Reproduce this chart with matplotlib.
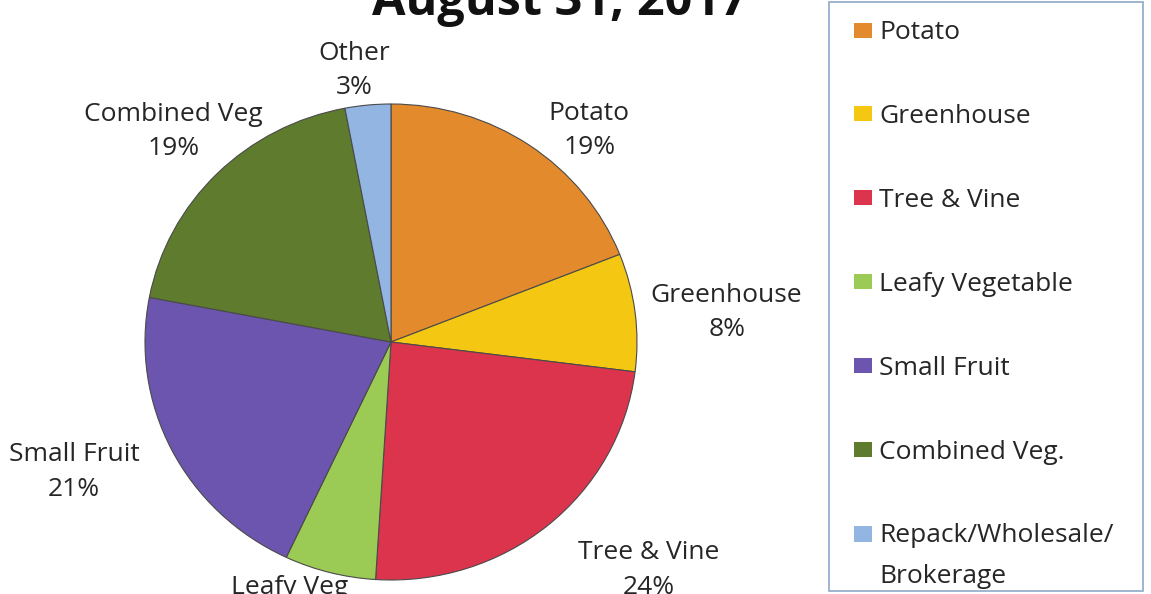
import numpy as np
import matplotlib
matplotlib.use('Agg')
import matplotlib.pyplot as plt
from matplotlib.patches import Patch, Rectangle
from matplotlib.legend_handler import HandlerPatch

plt.rcParams['font.family'] = ['Open Sans', 'DejaVu Sans']

# data
slice_names = ['Potato', 'Greenhouse', 'Tree & Vine', 'Leafy Veg', 'Small Fruit', 'Combined Veg', 'Other']
shares = [19, 8, 24, 6, 21, 19, 3]
legend_names = ['Potato', 'Greenhouse', 'Tree & Vine', 'Leafy Vegetable', 'Small Fruit',
                'Combined Veg.', 'Repack/Wholesale/\nBrokerage']
colors = ['#E38B2C', '#F4C812', '#DC344C', '#9CCB55', '#6C55AE', '#5E7B2E', '#92B5E2']

# label placement: distance (in radii) and angle nudge (deg)
label_dist = [1.20, 1.37, 1.42, 1.18, 1.40, 1.25, 1.15]
label_nudge = [-8, -2, 8, -6, -4, 0, 2]

W, H = 1151, 594
fig = plt.figure(figsize=(W / 100, H / 100), dpi=100)

# pie axes (pixel geometry)
cx, cy, rx, ry = 391, 342, 246, 238
ax = fig.add_axes([(cx - rx) / W, (H - cy - ry) / H, 2 * rx / W, 2 * ry / H])
wedges, _ = ax.pie(shares, colors=colors, startangle=90, counterclock=False,
                   wedgeprops=dict(edgecolor='#4a4a4a', linewidth=0.8))
ax.set_aspect('auto')
ax.set_xlim(-1, 1)
ax.set_ylim(-1, 1)
ax.axis('off')

for w, name, val, d, nudge in zip(wedges, slice_names, shares, label_dist, label_nudge):
    ang = np.deg2rad((w.theta1 + w.theta2) / 2 + nudge)
    ax.text(d * np.cos(ang), d * np.sin(ang), f'{name}\n{val}%', ha='center', va='center',
            fontsize=19, color='#262626', linespacing=1.5, clip_on=False)

fig.text(560 / W, 1 - 15 / H, 'August 31, 2017', ha='center', va='baseline',
         fontsize=35, fontweight='bold', color='#111111')


# two-line legend entry: keep the swatch next to the first line
def top_patch(legend, orig_handle, xdescent, ydescent, width, height, fontsize):
    return Rectangle((-xdescent, -ydescent + 16), width, height)


handles = [Patch(facecolor=c, edgecolor='none') for c in colors]
leg = fig.legend(handles, legend_names, loc='upper left', mode='expand',
                 bbox_to_anchor=(828 / W, 1 + 6 / H, 315 / W, 0), fontsize=19,
                 frameon=False, labelspacing=2.23,
                 handlelength=0.68, handleheight=0.5, handletextpad=0.27,
                 borderpad=1.0, borderaxespad=0,
                 handler_map={handles[-1]: HandlerPatch(patch_func=top_patch)})
for t in leg.get_texts():
    t.set_color('#262626')
leg.get_texts()[-1].set_linespacing(1.8)

# legend border box
fig.patches.append(Rectangle((829 / W, 3 / H), 314 / W, 589 / H, transform=fig.transFigure,
                             fill=False, edgecolor='#8FA8C8', linewidth=1.2))

fig.savefig('out.png', dpi=100)
